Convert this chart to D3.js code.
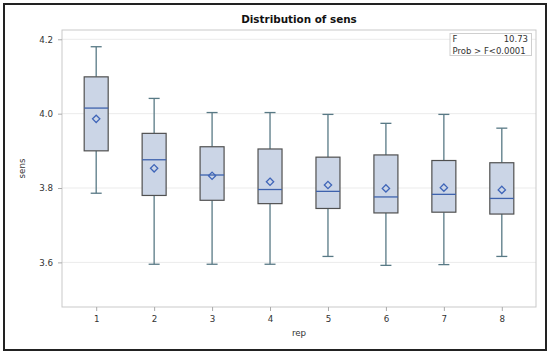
<!DOCTYPE html>
<html>
<head>
<meta charset="utf-8">
<script src="https://cdn.jsdelivr.net/npm/d3@7"></script>
<style>
  body { margin: 0; background: #fff; }
  text { font-family: "DejaVu Sans", Verdana, sans-serif; }
</style>
</head>
<body>
<svg id="canvas"></svg>
<script>
// summary stats
let reps = ['1', '2', '3', '4', '5', '6', '7', '8'];
let whiskerLow = [3.786, 3.595, 3.595, 3.595, 3.616, 3.592, 3.594, 3.616];
let q1 = [3.900, 3.780, 3.767, 3.758, 3.745, 3.733, 3.735, 3.730];
let median = [4.015, 3.876, 3.835, 3.796, 3.791, 3.776, 3.783, 3.772];
let q3 = [4.099, 3.947, 3.911, 3.905, 3.883, 3.889, 3.874, 3.868];
let whiskerHigh = [4.180, 4.041, 4.003, 4.003, 3.998, 3.974, 3.998, 3.961];
let mean = [3.986, 3.853, 3.833, 3.817, 3.808, 3.799, 3.801, 3.795];
let yTicks = [3.6, 3.8, 4.0, 4.2];

let width = 550;
let height = 354;
let plotLeft = 62, plotRight = 536, plotTop = 30, plotBottom = 307;
let font = '"DejaVu Sans", Verdana, sans-serif';

let canvas = d3.select('#canvas')
  .attr('width', width)
  .attr('height', height);

// outer frame
canvas.append('rect')
  .attr('x', 4).attr('y', 4)
  .attr('width', 542).attr('height', 346)
  .attr('fill', 'none')
  .attr('stroke', '#222')
  .attr('stroke-width', 2);

let xScale = d3.scalePoint()
  .domain(reps)
  .range([plotLeft, plotRight])
  .padding(0.59);

let yScale = d3.scaleLinear()
  .domain([3.48, 4.225])
  .range([plotBottom, plotTop]);

let boxes = reps.map((r, i) => ({
  rep: r, lo: whiskerLow[i], q1: q1[i], med: median[i],
  q3: q3[i], hi: whiskerHigh[i], mean: mean[i]
}));

// grid lines
canvas.append('g').selectAll('line')
  .data(yTicks)
  .enter()
  .append('line')
  .attr('x1', plotLeft).attr('x2', plotRight)
  .attr('y1', d => yScale(d)).attr('y2', d => yScale(d))
  .attr('stroke', '#ebebeb');

// plot frame
canvas.append('rect')
  .attr('x', plotLeft).attr('y', plotTop)
  .attr('width', plotRight - plotLeft).attr('height', plotBottom - plotTop)
  .attr('fill', 'none')
  .attr('stroke', '#c9c9c9');

let boxW = 24;
let capW = 11;

let g = canvas.append('g').selectAll('g')
  .data(boxes)
  .enter()
  .append('g')
  .attr('transform', d => 'translate(' + xScale(d.rep) + ',0)');

// whiskers
g.append('line')
  .attr('x1', 0).attr('x2', 0)
  .attr('y1', d => yScale(d.hi)).attr('y2', d => yScale(d.q3))
  .attr('stroke', '#587985').attr('stroke-width', 1.3);
g.append('line')
  .attr('x1', 0).attr('x2', 0)
  .attr('y1', d => yScale(d.q1)).attr('y2', d => yScale(d.lo))
  .attr('stroke', '#587985').attr('stroke-width', 1.3);
g.append('line')
  .attr('x1', -capW / 2).attr('x2', capW / 2)
  .attr('y1', d => yScale(d.hi)).attr('y2', d => yScale(d.hi))
  .attr('stroke', '#587985').attr('stroke-width', 1.3);
g.append('line')
  .attr('x1', -capW / 2).attr('x2', capW / 2)
  .attr('y1', d => yScale(d.lo)).attr('y2', d => yScale(d.lo))
  .attr('stroke', '#587985').attr('stroke-width', 1.3);

// box
g.append('rect')
  .attr('x', -boxW / 2)
  .attr('width', boxW)
  .attr('y', d => yScale(d.q3))
  .attr('height', d => yScale(d.q1) - yScale(d.q3))
  .attr('fill', '#cbd5e6')
  .attr('stroke', '#505050')
  .attr('stroke-width', 1.2);

// median
g.append('line')
  .attr('x1', -boxW / 2).attr('x2', boxW / 2)
  .attr('y1', d => yScale(d.med)).attr('y2', d => yScale(d.med))
  .attr('stroke', '#3e62ad').attr('stroke-width', 1.3);

// mean diamond
g.append('path')
  .attr('d', d3.symbol().type(d3.symbolDiamond2).size(34))
  .attr('transform', d => 'translate(0,' + yScale(d.mean) + ')')
  .attr('fill', 'none')
  .attr('stroke', '#3f65b8')
  .attr('stroke-width', 1.3);

// axes
let xAxis = d3.axisBottom(xScale).tickSize(4).tickPadding(5);
let yAxis = d3.axisLeft(yScale).tickValues(yTicks).tickFormat(d3.format('.1f')).tickSize(4).tickPadding(5);

let gx = canvas.append('g')
  .attr('transform', 'translate(0,' + plotBottom + ')')
  .call(xAxis);
let gy = canvas.append('g')
  .attr('transform', 'translate(' + plotLeft + ',0)')
  .call(yAxis);

[gx, gy].forEach(a => {
  a.select('.domain').remove();
  a.selectAll('line').attr('stroke', '#aaa');
  a.selectAll('text')
    .attr('fill', '#333')
    .style('font-size', '8.7px')
    .style('font-family', font);
});

// title and axis labels
canvas.append('text')
  .attr('x', (plotLeft + plotRight) / 2).attr('y', 23)
  .attr('text-anchor', 'middle')
  .attr('font-weight', 'bold')
  .attr('font-size', '10.4px')
  .attr('fill', '#111')
  .text('Distribution of sens');

canvas.append('text')
  .attr('x', (plotLeft + plotRight) / 2).attr('y', 335.5)
  .attr('text-anchor', 'middle')
  .attr('font-size', '8.7px')
  .attr('fill', '#333')
  .text('rep');

canvas.append('text')
  .attr('transform', 'translate(24.5,' + (plotTop + plotBottom) / 2 + ') rotate(-90)')
  .attr('text-anchor', 'middle')
  .attr('font-size', '8.7px')
  .attr('fill', '#333')
  .text('sens');

// stats inset
let inset = canvas.append('g');
inset.append('rect')
  .attr('x', 450).attr('y', 33.5)
  .attr('width', 81.5).attr('height', 22)
  .attr('fill', '#fff')
  .attr('stroke', '#cfcfcf');
inset.append('text')
  .attr('x', 452.5).attr('y', 41.7)
  .attr('font-size', '8.5px').attr('fill', '#333')
  .text('F');
inset.append('text')
  .attr('x', 528).attr('y', 41.7)
  .attr('text-anchor', 'end')
  .attr('font-size', '8.5px').attr('fill', '#333')
  .text('10.73');
inset.append('text')
  .attr('x', 452.5).attr('y', 53.5)
  .attr('font-size', '8.5px').attr('fill', '#333')
  .text('Prob > F<0.0001');
</script>
</body>
</html>
